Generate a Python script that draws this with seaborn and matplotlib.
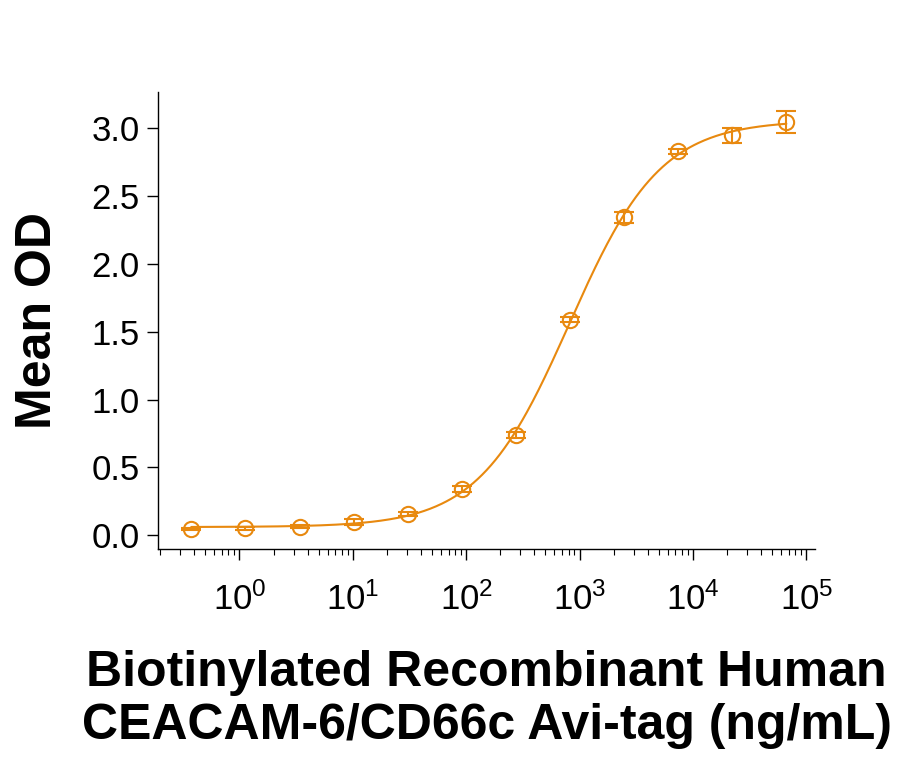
import numpy as np
import pandas as pd
import matplotlib
matplotlib.use("Agg")
import matplotlib.pyplot as plt
import seaborn as sns

# concentration (ng/mL), 3-fold dilution series
conc = [0.376, 1.13, 3.39, 10.2, 30.5, 91.4, 274, 823, 2469, 7407, 22222, 66667]
mean_od = [0.046, 0.052, 0.064, 0.098, 0.157, 0.34, 0.74, 1.59, 2.345, 2.83, 2.95, 3.045]
err_od = [0.01, 0.01, 0.01, 0.02, 0.015, 0.02, 0.02, 0.02, 0.04, 0.02, 0.055, 0.08]

xlabel = "Biotinylated Recombinant Human\nCEACAM-6/CD66c Avi-tag (ng/mL)"
ylabel = "Mean OD"
color = "#E8890F"

df = pd.DataFrame({"conc": conc, "od": mean_od, "err": err_od})


def fit_4pl(x, y):
    # crude grid search for a 4-parameter logistic fit
    lx = np.log10(x)
    best = None
    for bottom in np.linspace(0.02, 0.07, 11):
        for top in np.linspace(2.9, 3.3, 21):
            for lec in np.linspace(2.7, 3.3, 61):
                for h in np.linspace(0.8, 1.4, 31):
                    pred = bottom + (top - bottom) / (1 + 10 ** ((lec - lx) * h))
                    sse = np.sum((pred - y) ** 2)
                    if best is None or sse < best[0]:
                        best = (sse, bottom, top, lec, h)
    return best[1:]


b, t, lec, h = fit_4pl(df["conc"].values, df["od"].values)
xs = np.logspace(np.log10(conc[0]), np.log10(conc[-1]), 400)
curve = pd.DataFrame({"conc": xs, "od": b + (t - b) / (1 + 10 ** ((lec - np.log10(xs)) * h))})

sns.set_style("ticks")
plt.rcParams["font.family"] = ["Liberation Sans", "DejaVu Sans"]
plt.rcParams["mathtext.fontset"] = "custom"
plt.rcParams["mathtext.rm"] = "Liberation Sans"
plt.rcParams["mathtext.it"] = "Liberation Sans"
plt.rcParams["text.color"] = "black"
plt.rcParams["axes.labelcolor"] = "black"
plt.rcParams["xtick.color"] = "black"
plt.rcParams["ytick.color"] = "black"
plt.rcParams["axes.edgecolor"] = "black"

fig = plt.figure(figsize=(9.07, 7.59), dpi=100)
ax = fig.add_axes([0.174, 0.277, 0.725, 0.602])

sns.lineplot(data=curve, x="conc", y="od", color=color, lw=1.5, ax=ax)
ax.errorbar(df["conc"], df["od"], yerr=df["err"], fmt="o", mfc="none", mec=color,
            ecolor=color, ms=11, mew=1.5, capsize=7, elinewidth=1.5, capthick=1.8, zorder=3)

ax.set_xscale("log")
ax.set_xlim(10 ** -0.72, 10 ** 5.08)
ax.set_ylim(-0.10, 3.27)
ax.set_yticks([0.0, 0.5, 1.0, 1.5, 2.0, 2.5, 3.0])
ax.set_yticklabels(["0.0", "0.5", "1.0", "1.5", "2.0", "2.5", "3.0"])
ax.set_xticks([1, 10, 100, 1000, 10000, 100000])
ax.set_xticklabels([r"$10^{%d}$" % i for i in range(6)])

sns.despine(ax=ax)
for s in ["left", "bottom"]:
    ax.spines[s].set_linewidth(1.0)
ax.tick_params(axis="y", length=8, width=1, labelsize=25, pad=5)
ax.tick_params(axis="x", which="major", length=8, width=1, labelsize=25, pad=16)
ax.tick_params(axis="x", which="minor", length=4, width=0.8)

ax.set_xlabel(xlabel, fontsize=36, fontweight="bold", labelpad=24, linespacing=1.2)
ax.set_ylabel(ylabel, fontsize=36, fontweight="bold", labelpad=22)

fig.savefig("out.png", dpi=100)
